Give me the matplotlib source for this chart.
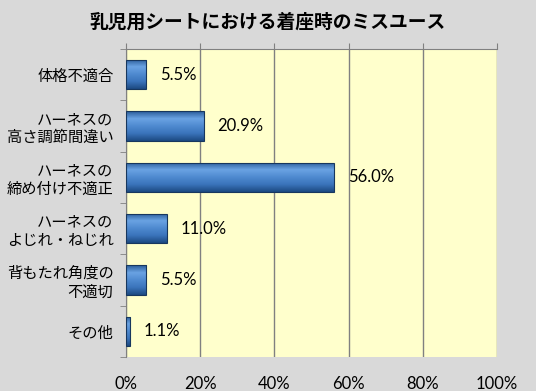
import numpy as np
import matplotlib.pyplot as plt
from matplotlib.patches import Rectangle
from matplotlib.colors import LinearSegmentedColormap

plt.rcParams['font.family'] = ['Noto Sans CJK JP', 'DejaVu Sans']

# data
categories = ['体格不適合', 'ハーネスの\n高さ調節間違い', 'ハーネスの\n締め付け不適正',
              'ハーネスの\nよじれ・ねじれ', '背もたれ角度の\n不適切', 'その他']
values = [5.5, 20.9, 56.0, 11.0, 5.5, 1.1]
value_labels = ['5.5%', '20.9%', '56.0%', '11.0%', '5.5%', '1.1%']
xticks = [0, 20, 40, 60, 80, 100]
xtick_labels = ['0%', '20%', '40%', '60%', '80%', '100%']

fig = plt.figure(figsize=(5.36, 3.91), dpi=100, facecolor='#d9d9d9')
ax = fig.add_axes([126/536, 1 - 357/391, 371/536, 308/391])
ax.set_facecolor('#ffffcc')

y = np.arange(len(categories))
bar_h = 0.57

# gradient for the bevel-like bars
cmap = LinearSegmentedColormap.from_list('bar', ['#2a5c9a', '#6aa3e3', '#4f8ad0', '#3a74bb', '#1c4a82'])
grad = np.linspace(0, 1, 64).reshape(-1, 1)

for yi, v in zip(y, values):
    rect = Rectangle((0, yi - bar_h / 2), v, bar_h, facecolor='none',
                     edgecolor='#17375e', linewidth=0.8, zorder=3)
    ax.add_patch(rect)
    im = ax.imshow(grad, cmap=cmap, aspect='auto',
                   extent=(0, v, yi + bar_h / 2, yi - bar_h / 2), zorder=2)
    im.set_clip_path(rect)

for yi, v, lab in zip(y, values, value_labels):
    ax.annotate(lab, (v, yi), xytext=(10, 0), textcoords='offset points',
                va='center', ha='left', fontsize=12, family=['Lato', 'DejaVu Sans'])

ax.set_xlim(0, 100)
ax.set_ylim(len(categories) - 0.5, -0.5)
ax.set_xticks(xticks)
ax.set_xticklabels(xtick_labels, family=['Lato', 'DejaVu Sans'], fontsize=12)
ax.tick_params(axis='x', top=True, bottom=False, labeltop=False, labelbottom=True,
               direction='out', length=4, color='#808080', pad=10)
ax.set_yticks(y)
ax.set_yticklabels(categories, fontsize=11, linespacing=1.1)
ax.set_yticks(np.arange(len(categories) + 1) - 0.5, minor=True)
ax.tick_params(axis='y', which='minor', length=4, color='#808080', direction='out')
ax.tick_params(axis='y', which='major', length=0, pad=9)

ax.grid(axis='x', color='#808080', linewidth=1)
ax.set_axisbelow(True)
for s in ['left', 'top', 'bottom', 'right']:
    ax.spines[s].set_color('#808080')
ax.spines['right'].set_visible(False)
ax.spines['bottom'].set_visible(False)

fig.text(0.5, 1 - 22/391, '乳児用シートにおける着座時のミスユース', ha='center', va='center',
         fontsize=13.5, fontweight='bold')

fig.savefig('out.png', dpi=100, facecolor=fig.get_facecolor())
